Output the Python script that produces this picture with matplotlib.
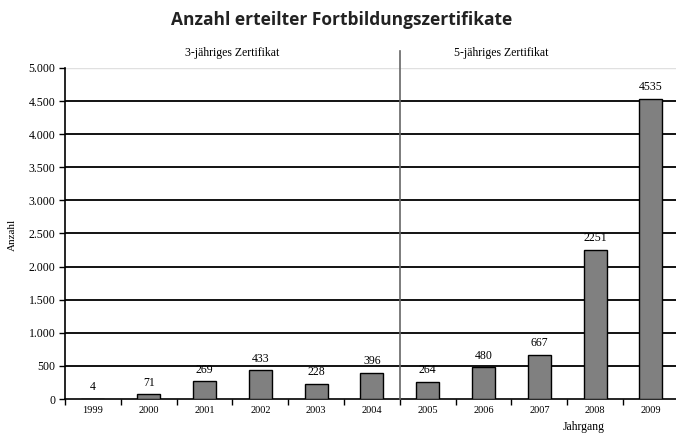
import matplotlib
matplotlib.use("Agg")
import matplotlib.pyplot as plt
from matplotlib.ticker import FuncFormatter, FixedLocator

years = ["1999", "2000", "2001", "2002", "2003", "2004", "2005", "2006", "2007", "2008", "2009"]
values = [4, 71, 269, 433, 228, 396, 264, 480, 667, 2251, 4535]
section_labels = ["3-jähriges Zertifikat", "5-jähriges Zertifikat"]

fig = plt.figure(figsize=(6.76, 4.33), dpi=100)
ax = fig.add_axes([0.0962, 0.0785, 0.908, 0.7645])

x = list(range(len(years)))
ax.set_xlim(-0.5, len(years) - 0.5)
ax.set_ylim(0, 5000)

yt = list(range(0, 5001, 500))
for v in yt[1:-1]:
    ax.axhline(v, color="black", lw=1.3, zorder=1)
ax.axhline(5000, color="#e0e0e0", lw=1.0, zorder=1)

ax.bar(x, values, width=0.41, color="#808080", edgecolor="black", linewidth=1.0, zorder=3)

for xi, v in zip(x, values):
    ax.annotate(str(v), (xi, v), xytext=(0, 4), textcoords="offset points",
                ha="center", va="bottom", fontsize=8.5, family="Liberation Serif")

ax.set_yticks(yt)
ax.yaxis.set_major_formatter(FuncFormatter(lambda v, p: f"{int(v):,}".replace(",", ".")))
ax.tick_params(axis="y", direction="out", length=4, width=1, labelsize=8.5, pad=3)
for lab in ax.get_yticklabels():
    lab.set_family("Liberation Serif")

ax.set_xticks(x)
ax.set_xticklabels(years, family="Liberation Serif", fontsize=7.5)
ax.tick_params(axis="x", which="major", length=0, pad=5)
ax.xaxis.set_minor_locator(FixedLocator([i - 0.5 for i in range(len(years) + 1)]))
ax.tick_params(axis="x", which="minor", direction="out", length=4, width=1)

for s in ["top", "right"]:
    ax.spines[s].set_visible(False)
ax.spines["left"].set_linewidth(1.2)
ax.spines["bottom"].set_linewidth(1.2)

# separator line
ax.plot([5.5, 5.5], [0, 5257], color="#666666", lw=1.2, clip_on=False, zorder=4)

ax.text(2.5, 5230, section_labels[0], ha="center", va="center", fontsize=8.5, family="Liberation Serif")
ax.text(7.31, 5230, section_labels[1], ha="center", va="center", fontsize=8.5, family="Liberation Serif")

fig.text(12 / 676, 1 - 235 / 433, "Anzahl", rotation=90, ha="center", va="center",
         family="Liberation Serif", fontsize=8)
fig.text(584 / 676, 1 - 427 / 433, "Jahrgang", ha="center", va="center",
         family="Liberation Serif", fontsize=8.5)

fig.suptitle("Anzahl erteilter Fortbildungszertifikate", x=342 / 676, y=1 - 20 / 433, va="center",
             fontsize=12.5, fontweight="bold", family="Open Sans", color="#222222")

fig.savefig("out.png", dpi=100)
